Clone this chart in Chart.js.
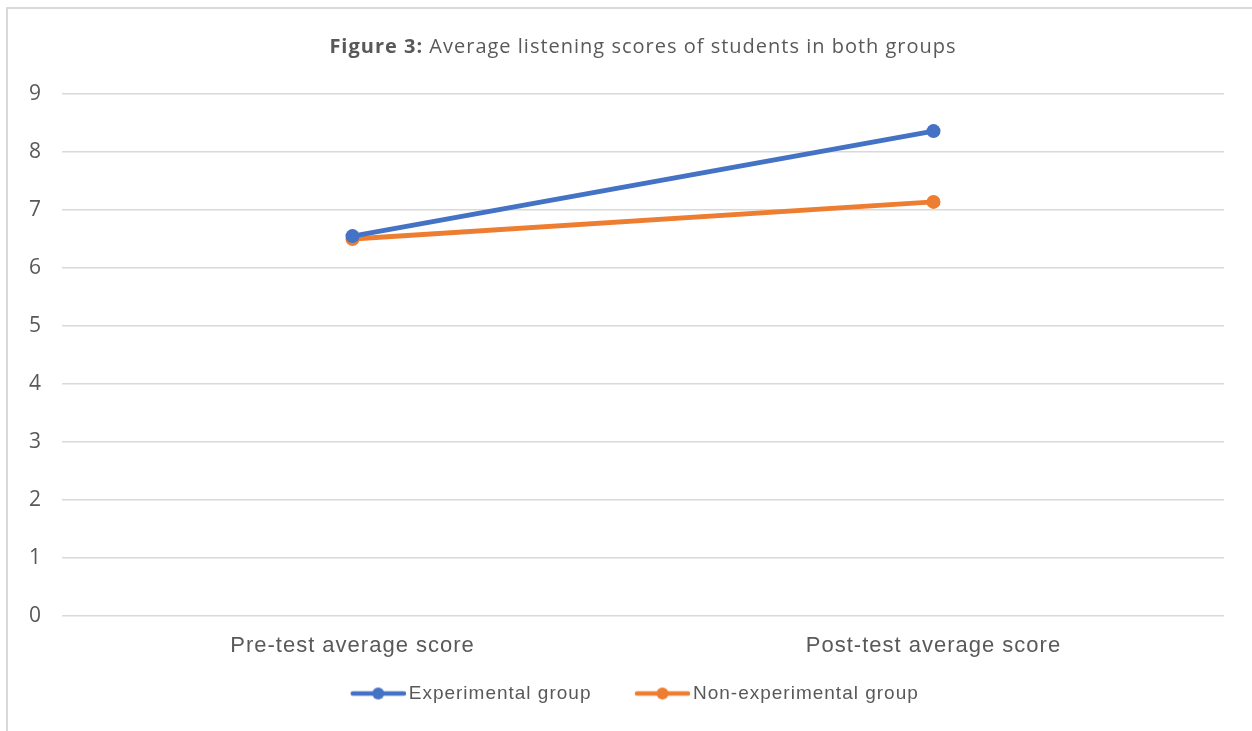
<!DOCTYPE html>
<html>
<head>
<meta charset="utf-8">
<script src="https://cdn.jsdelivr.net/npm/chart.js@4.4.1/dist/chart.umd.min.js"></script>
<style>
  html, body { margin: 0; padding: 0; background: #fff; }
  #wrap { width: 1252px; height: 731px; position: relative; }
</style>
</head>
<body>
<div id="wrap"><canvas id="chart-1" width="1252" height="731"></canvas></div>
<script>
// chart data
const categories = ["Pre-test average score", "Post-test average score"];
const experimentalScores = [6.55, 8.36];
const nonExperimentalScores = [6.5, 7.14];
const seriesNames = ["Experimental group", "Non-experimental group"];
const seriesColors = ["#4472C4", "#ED7D31"];

// legend marker: line with a dot, like Excel (transparent on the left for spacing)
function legendMarker(color) {
  const c = document.createElement("canvas");
  c.width = 87;
  c.height = 14;
  const g = c.getContext("2d");
  g.strokeStyle = color;
  g.lineWidth = 4.5;
  g.lineCap = "round";
  g.beginPath();
  g.moveTo(34, 7);
  g.lineTo(85, 7);
  g.stroke();
  g.fillStyle = color;
  g.beginPath();
  g.arc(59.5, 7, 6, 0, Math.PI * 2);
  g.fill();
  return c;
}

const frameAndTitle = {
  id: "frameAndTitle",
  beforeUpdate(chart) {
    chart.ctx.letterSpacing = "1px";
  },
  afterLayout(chart) {
    // nudge legend to the right, Excel centres it differently
    chart.legend.left += 10;
    chart.legend.right += 10;
  },
  beforeDraw(chart) {
    const ctx = chart.ctx;
    ctx.letterSpacing = "1px";
    ctx.save();
    ctx.strokeStyle = "#d9d9d9";
    ctx.lineWidth = 2;
    ctx.beginPath();
    ctx.moveTo(7, 731);
    ctx.lineTo(7, 8);
    ctx.lineTo(1252, 8);
    ctx.stroke();
    ctx.restore();
  },
  afterDraw(chart) {
    const ctx = chart.ctx;
    const boldPart = "Figure 3:";
    const restPart = " Average listening scores of students in both groups";
    ctx.save();
    ctx.letterSpacing = "1px";
    ctx.fillStyle = "#595959";
    ctx.textBaseline = "middle";
    ctx.font = "bold 20px 'Open Sans'";
    const w1 = ctx.measureText(boldPart).width;
    ctx.font = "20px 'Open Sans'";
    const w2 = ctx.measureText(restPart).width;
    const cx = (chart.chartArea.left + chart.chartArea.right) / 2;
    let x = cx - (w1 + w2) / 2;
    ctx.textAlign = "left";
    ctx.font = "bold 20px 'Open Sans'";
    ctx.fillText(boldPart, x, 47);
    ctx.font = "20px 'Open Sans'";
    ctx.fillText(restPart, x + w1, 47);
    ctx.restore();
  }
};

const ctx = document.getElementById("chart-1").getContext("2d");
ctx.letterSpacing = "1px";
const myChart = new Chart(ctx, {
  type: "line",
  data: {
    labels: categories,
    datasets: [
      {
        label: seriesNames[0],
        data: experimentalScores,
        borderColor: seriesColors[0],
        backgroundColor: seriesColors[0],
        borderWidth: 5,
        pointRadius: 7,
        pointHoverRadius: 7,
        pointBorderWidth: 0
      },
      {
        label: seriesNames[1],
        data: nonExperimentalScores,
        borderColor: seriesColors[1],
        backgroundColor: seriesColors[1],
        borderWidth: 5,
        pointRadius: 7,
        pointHoverRadius: 7,
        pointBorderWidth: 0
      }
    ]
  },
  options: {
    responsive: false,
    animation: false,
    layout: {
      padding: { left: 0, right: 28, top: 94, bottom: 18 }
    },
    plugins: {
      tooltip: { enabled: false },
      legend: {
        position: "bottom",
        labels: {
          usePointStyle: true,
          pointStyleWidth: 74,
          padding: 18,
          color: "#595959",
          font: { family: "'Liberation Sans', Arial", size: 19 },
          generateLabels(chart) {
            return chart.data.datasets.map((ds, i) => ({
              text: ds.label,
              fillStyle: ds.borderColor,
              strokeStyle: ds.borderColor,
              fontColor: "#595959",
              lineWidth: 0,
              pointStyle: legendMarker(ds.borderColor),
              datasetIndex: i,
              hidden: false
            }));
          }
        }
      }
    },
    scales: {
      x: {
        offset: true,
        grid: { display: false },
        border: { display: false },
        ticks: {
          color: "#595959",
          padding: 9,
          font: { family: "'Liberation Sans', Arial", size: 22 }
        },
        afterFit(scale) { scale.height = 50; }
      },
      y: {
        min: 0,
        max: 9,
        ticks: {
          stepSize: 1,
          color: "#595959",
          padding: 20,
          font: { family: "'Open Sans'", size: 21 }
        },
        grid: { color: "#d9d9d9", lineWidth: 1.5, drawTicks: false },
        border: { display: false },
        afterFit(scale) { scale.width = 62; }
      }
    }
  },
  plugins: [frameAndTitle]
});
</script>
</body>
</html>
